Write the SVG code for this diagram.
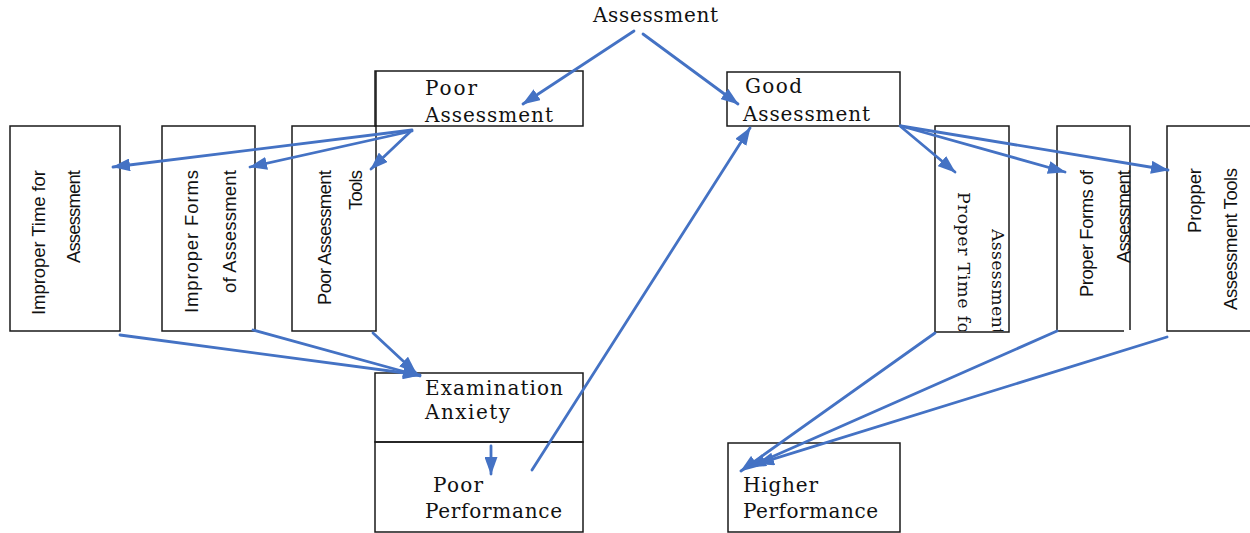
<svg xmlns="http://www.w3.org/2000/svg" width="1250" height="533" viewBox="0 0 1250 533">
  <style>
    .frame { fill: none; stroke: #1a1a1a; stroke-width: 1.5; }
    .serif { font-family: "DejaVu Serif", "Liberation Serif", serif; font-size: 20px; fill: #111; }
    .serif-sm { font-family: "DejaVu Serif", "Liberation Serif", serif; font-size: 17.5px; fill: #111; }
    .sans { font-family: "Liberation Sans", Arial, sans-serif; font-size: 18.5px; fill: #111; }
    .link { fill: none; stroke: #4472C4; stroke-width: 2.8; stroke-linecap: round; }
  </style>
  <defs>
    <marker id="head" viewBox="0 0 18 13" refX="17" refY="6.5" markerWidth="18" markerHeight="13" markerUnits="userSpaceOnUse" orient="auto">
      <path d="M0,0 L18,6.5 L0,13 z" fill="#4472C4"/>
    </marker>
    <clipPath id="clipProperTime">
      <rect x="935" y="126" width="74" height="205"/>
    </clipPath>
  </defs>

  <!-- root label -->
  <g id="assessment">
    <text class="serif" x="593" y="22" textLength="125">Assessment</text>
  </g>

  <!-- poor branch -->
  <g id="poor-assessment">
    <path class="frame" d="M375,71 H583 V126 H375 Z"/>
    <text class="serif" x="425" y="95" textLength="52">Poor</text>
    <text class="serif" x="425" y="122" textLength="128">Assessment</text>
  </g>

  <g id="improper-time">
    <path class="frame" d="M10,126 H120 V331 H10 Z"/>
    <g transform="translate(45,170) rotate(-90)">
      <text class="sans" text-anchor="end" textLength="145">Improper Time for</text>
    </g>
    <g transform="translate(80,170) rotate(-90)">
      <text class="sans" text-anchor="end" textLength="93">Assessment</text>
    </g>
  </g>

  <g id="improper-forms">
    <path class="frame" d="M162,126 H255 V331 H162 Z"/>
    <g transform="translate(198,170) rotate(-90)">
      <text class="sans" text-anchor="end" textLength="143">Improper Forms</text>
    </g>
    <g transform="translate(236,170) rotate(-90)">
      <text class="sans" text-anchor="end" textLength="123">of Assessment</text>
    </g>
  </g>

  <g id="poor-tools">
    <path class="frame" d="M292,126 H376 V331 H292 Z"/>
    <line class="frame" x1="376" y1="126" x2="376" y2="71"/>
    <g transform="translate(331,170) rotate(-90)">
      <text class="sans" text-anchor="end" textLength="135">Poor Assessment</text>
    </g>
    <g transform="translate(362,170) rotate(-90)">
      <text class="sans" text-anchor="end" textLength="40">Tools</text>
    </g>
  </g>

  <g id="exam-anxiety">
    <path class="frame" d="M375,373 H583 V442 H375 Z"/>
    <text class="serif" x="425" y="395" textLength="138">Examination</text>
    <text class="serif" x="425" y="419" textLength="85">Anxiety</text>
  </g>

  <g id="poor-performance">
    <path class="frame" d="M375,442 H583 V532 H375 Z"/>
    <text class="serif" x="433" y="492" textLength="50">Poor</text>
    <text class="serif" x="425" y="518" textLength="137">Performance</text>
  </g>

  <!-- good branch -->
  <g id="good-assessment">
    <path class="frame" d="M727,72 H900 V126 H727 Z"/>
    <text class="serif" x="745" y="93" textLength="57">Good</text>
    <text class="serif" x="743" y="121" textLength="127">Assessment</text>
  </g>

  <g id="proper-time">
    <path class="frame" d="M935,126 H1009 V332 H935 Z"/>
    <g clip-path="url(#clipProperTime)">
      <g transform="translate(958,192) rotate(90)">
        <text class="serif-sm" textLength="150">Proper Time for</text>
      </g>
      <g transform="translate(992,229) rotate(90)">
        <text class="serif-sm" textLength="106">Assessment</text>
      </g>
    </g>
  </g>

  <g id="proper-forms">
    <path class="frame" d="M1124,331 H1057 V126 H1130 V330"/>
    <g transform="translate(1093,170) rotate(-90)">
      <text class="sans" text-anchor="end" textLength="127">Proper Forms of</text>
    </g>
    <g transform="translate(1130,170) rotate(-90)">
      <text class="sans" text-anchor="end" textLength="93">Assessment</text>
    </g>
  </g>

  <g id="proper-tools">
    <path class="frame" d="M1250,126 H1167 V331 H1250"/>
    <g transform="translate(1201,168) rotate(-90)">
      <text class="sans" text-anchor="end" textLength="65">Propper</text>
    </g>
    <g transform="translate(1237,168) rotate(-90)">
      <text class="sans" text-anchor="end" textLength="142">Assessment Tools</text>
    </g>
  </g>

  <g id="higher-performance">
    <path class="frame" d="M728,443 H900 V532 H728 Z"/>
    <text class="serif" x="743" y="492" textLength="75">Higher</text>
    <text class="serif" x="743" y="518" textLength="135">Performance</text>
  </g>

  <!-- connectors -->
  <g id="connectors">
    <line class="link" x1="634" y1="31" x2="523" y2="104" marker-end="url(#head)"/>
    <line class="link" x1="643" y1="34" x2="738" y2="104" marker-end="url(#head)"/>
    <line class="link" x1="412" y1="130" x2="113" y2="167" marker-end="url(#head)"/>
    <line class="link" x1="412" y1="131" x2="250" y2="167" marker-end="url(#head)"/>
    <line class="link" x1="410" y1="132" x2="371" y2="169" marker-end="url(#head)"/>
    <line class="link" x1="120" y1="335" x2="420" y2="375" marker-end="url(#head)"/>
    <line class="link" x1="253" y1="330" x2="420" y2="376" marker-end="url(#head)"/>
    <line class="link" x1="373" y1="333" x2="416" y2="373" marker-end="url(#head)"/>
    <line class="link" x1="491" y1="446" x2="491" y2="474" marker-end="url(#head)"/>
    <line class="link" x1="532" y1="470" x2="750" y2="128" marker-end="url(#head)"/>
    <line class="link" x1="900" y1="126" x2="955" y2="172" marker-end="url(#head)"/>
    <line class="link" x1="901" y1="126" x2="1065" y2="172" marker-end="url(#head)"/>
    <line class="link" x1="901" y1="126" x2="1168" y2="170" marker-end="url(#head)"/>
    <line class="link" x1="935" y1="333" x2="741" y2="471" marker-end="url(#head)"/>
    <line class="link" x1="1057" y1="331" x2="749" y2="467" marker-end="url(#head)"/>
    <line class="link" x1="1167" y1="337" x2="757" y2="464" marker-end="url(#head)"/>
  </g>
</svg>
